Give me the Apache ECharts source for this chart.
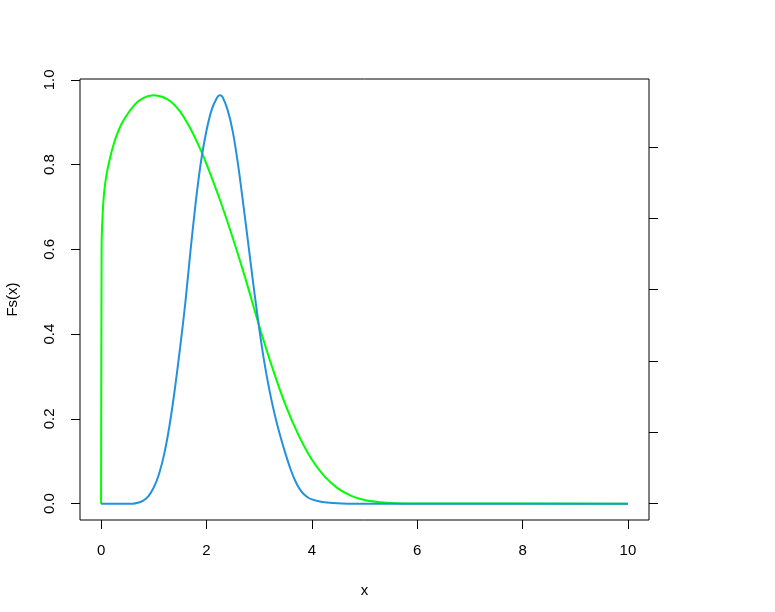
<!DOCTYPE html>
<html>
<head>
<meta charset="utf-8">
<script src="https://cdn.jsdelivr.net/npm/echarts@6/dist/echarts.min.js"></script>
<style>
html,body{margin:0;padding:0;background:#fff;}
#chart{width:775px;height:612px;}
</style>
</head>
<body>
<div id="chart"></div>
<script>
// Data
var greenX = [0, 0.01, 0.02, 0.04, 0.06, 0.1, 0.15, 0.2, 0.25, 0.3, 0.35, 0.4, 0.5, 0.6, 0.7, 0.8, 0.9, 1.0, 1.1, 1.2, 1.3, 1.4, 1.5, 1.6, 1.7, 1.8, 1.9, 2.0, 2.25, 2.5, 2.75, 3.0, 3.25, 3.5, 3.75, 4.0, 4.25, 4.5, 4.75, 5.0, 5.25, 5.5, 5.75, 6.0, 10];
var greenY = [0, 0.61, 0.655, 0.705, 0.737, 0.774, 0.805, 0.831, 0.853, 0.871, 0.886, 0.899, 0.919, 0.936, 0.949, 0.957, 0.962, 0.964, 0.962, 0.958, 0.951, 0.940, 0.925, 0.906, 0.884, 0.859, 0.832, 0.802, 0.719, 0.627, 0.527, 0.42, 0.321, 0.233, 0.161, 0.104, 0.063, 0.0355, 0.0185, 0.0085, 0.004, 0.0017, 0.0006, 0.0002, 0];
var blueX = [0, 0.6, 0.7, 0.8, 0.9, 1.0, 1.1, 1.2, 1.3, 1.4, 1.5, 1.6, 1.7, 1.8, 1.9, 2.0, 2.1, 2.2, 2.25, 2.3, 2.4, 2.5, 2.6, 2.7, 2.8, 2.9, 3.0, 3.1, 3.2, 3.3, 3.4, 3.5, 3.6, 3.7, 3.8, 3.9, 4.0, 4.2, 4.4, 4.7, 10];
var blueY = [0, 0, 0.002, 0.007, 0.018, 0.038, 0.07, 0.118, 0.185, 0.27, 0.368, 0.475, 0.6, 0.715, 0.81, 0.88, 0.93, 0.958, 0.964, 0.961, 0.93, 0.878, 0.80, 0.706, 0.607, 0.508, 0.415, 0.333, 0.265, 0.208, 0.16, 0.118, 0.08, 0.05, 0.029, 0.017, 0.01, 0.004, 0.0015, 0, 0];
var xTicks = [0, 2, 4, 6, 8, 10];
var yTicks = [0, 0.2, 0.4, 0.6, 0.8, 1.0];
var rightTicks = [0, 0.2, 0.4, 0.6, 0.8, 1.0];
var xTitle = 'x';
var yTitle = 'Fs(x)';

function pairs(xs, ys){ var out=[]; for (var i=0;i<xs.length;i++){ out.push([xs[i], ys[i]]); } return out; }

var FONT = '"Liberation Sans", Arial, sans-serif';
var chart = echarts.init(document.getElementById('chart'), null, {renderer:'canvas'});
chart.setOption({
  animation: false,
  backgroundColor: '#ffffff',
  grid: {left: 80, right: 126, top: 79, bottom: 92, show: true, borderColor: '#000', borderWidth: 1,
    backgroundColor: 'transparent', outerBoundsMode: 'none', containLabel: false},
  xAxis: {
    type: 'value', min: -0.4, max: 10.4,
    name: xTitle, nameLocation: 'middle', nameGap: 63,
    nameTextStyle: {fontFamily: FONT, fontSize: 15, color: '#000'},
    axisLine: {show: false, onZero: false},
    splitLine: {show: false},
    axisTick: {show: true, length: 9, customValues: xTicks, lineStyle: {color: '#000', width: 1}},
    axisLabel: {customValues: xTicks, margin: 23, fontFamily: FONT, fontSize: 15, color: '#000',
      formatter: function(v){ return String(v); }}
  },
  yAxis: [{
    type: 'value', min: -0.0386, max: 1.0022, position: 'left',
    name: yTitle, nameLocation: 'middle', nameGap: 60, nameRotate: 90,
    nameTextStyle: {fontFamily: FONT, fontSize: 15, color: '#000'},
    axisLine: {show: false, onZero: false},
    splitLine: {show: false},
    axisTick: {show: true, length: 9, customValues: yTicks, lineStyle: {color: '#000', width: 1}},
    axisLabel: {customValues: yTicks, rotate: 90, margin: 23, fontFamily: FONT, fontSize: 15, color: '#000',
      formatter: function(v){ return v.toFixed(1); }}
  }, {
    type: 'value', min: -0.046, max: 1.1907, position: 'right',
    axisLine: {show: false, onZero: false},
    splitLine: {show: false},
    axisTick: {show: true, length: 9, customValues: rightTicks, lineStyle: {color: '#000', width: 1}},
    axisLabel: {show: false}
  }],
  series: [{
    type: 'line', yAxisIndex: 0, data: pairs(greenX, greenY), showSymbol: false, symbol: 'none',
    smooth: 0.3, lineStyle: {color: '#00ff00', width: 2}, z: 2
  }, {
    type: 'line', yAxisIndex: 0, data: pairs(blueX, blueY), showSymbol: false, symbol: 'none',
    smooth: 0.3, lineStyle: {color: '#2292de', width: 2}, z: 3
  }]
});
</script>
</body>
</html>
